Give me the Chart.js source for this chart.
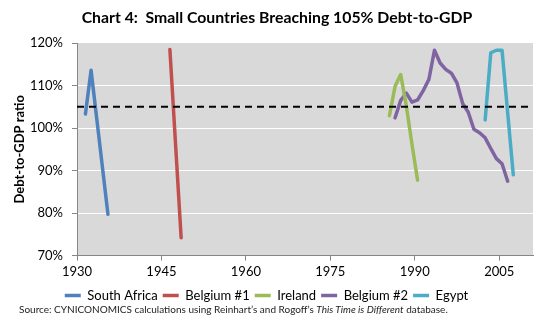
<!DOCTYPE html>
<html>
<head>
<meta charset="utf-8">
<script src="https://cdn.jsdelivr.net/npm/chart.js@4/dist/chart.umd.min.js"></script>
<style>
  html, body { margin: 0; padding: 0; background: #fff; }
  #wrap { position: relative; width: 554px; height: 328px; }
  #c { display: block; }
  #src { position: absolute; left: 19px; top: 303px; font-family: Lato, "Open Sans", sans-serif; font-size: 10px; color: #222; white-space: nowrap; }
</style>
</head>
<body>
<div id="wrap">
  <canvas id="c" width="554" height="328"></canvas>
  <div id="src">Source: CYNICONOMICS calculations using Reinhart’s and Rogoff’s <i>This Time is Different</i> database.</div>
</div>
<script>
const chartTitle = 'Chart 4:  Small Countries Breaching 105% Debt-to-GDP';
const yAxisTitle = 'Debt-to-GDP ratio';
const xTickLabels = ['1930', '1945', '1960', '1975', '1990', '2005'];
const yTickValues = [70, 80, 90, 100, 110, 120];
const thresholdValue = 105;

const seriesNames = ['South Africa', 'Belgium #1', 'Ireland', 'Belgium #2', 'Egypt'];

const southAfricaYears = [1931, 1932, 1935];
const southAfricaValues = [103.3, 113.6, 79.7];

const belgium1Years = [1946, 1948];
const belgium1Values = [118.5, 74.2];

const irelandYears = [1985, 1986, 1987, 1988, 1989, 1990];
const irelandValues = [102.9, 109.8, 112.6, 105.2, 96.2, 87.7];

const belgium2Years = [1986, 1987, 1988, 1989, 1990, 1991, 1992, 1993, 1994, 1995, 1996,
                       1997, 1998, 1999, 2000, 2001, 2002, 2003, 2004, 2005, 2006];
const belgium2Values = [102.4, 106.5, 108.2, 106.1, 106.6, 108.8, 111.4, 118.3, 115.3, 113.8, 112.9,
                        110.6, 105.8, 103.7, 99.7, 98.9, 97.7, 95.2, 92.8, 91.6, 87.5];

const egyptYears = [2002, 2003, 2004, 2005, 2007];
const egyptValues = [101.9, 117.7, 118.3, 118.3, 89.0];

const firstYear = 1930;
const lastYear = 2010;

const colors = ['#4F81BD', '#C0504D', '#9BBB59', '#8064A2', '#4BACC6'];

function pts(xs, ys) { return xs.map((x, i) => ({ x: x, y: ys[i] })); }

const seriesData = [
  pts(southAfricaYears, southAfricaValues),
  pts(belgium1Years, belgium1Values),
  pts(irelandYears, irelandValues),
  pts(belgium2Years, belgium2Values),
  pts(egyptYears, egyptValues)
];

const FONT = 'Lato, "Open Sans", sans-serif';

const bgPlugin = {
  id: 'plotBg',
  beforeDraw(chart) {
    const a = chart.chartArea, ctx = chart.ctx;
    ctx.save();
    ctx.fillStyle = '#D9D9D9';
    ctx.fillRect(a.left, a.top, a.right - a.left, a.bottom - a.top);
    ctx.restore();
  },
  afterDraw(chart) {
    const ctx = chart.ctx;
    ctx.save();
    ctx.fillStyle = '#000';
    ctx.font = 'bold 15.8px ' + FONT;
    ctx.textAlign = 'center';
    ctx.textBaseline = 'middle';
    ctx.fillText(chartTitle, chart.width / 2, 18);
    ctx.restore();
  }
};

const datasets = [{
  label: 'threshold',
  data: [{ x: firstYear - 0.5, y: thresholdValue }, { x: lastYear + 0.5, y: thresholdValue }],
  borderColor: '#000',
  borderWidth: 2,
  borderDash: [7, 5],
  pointRadius: 0,
  fill: false
}].concat(seriesNames.map((n, i) => ({
  label: n,
  data: seriesData[i],
  borderColor: colors[i],
  backgroundColor: colors[i],
  borderWidth: 3.5,
  borderJoinStyle: 'round',
  borderCapStyle: 'round',
  pointRadius: 0,
  tension: 0,
  fill: false
})));

new Chart(document.getElementById('c'), {
  type: 'line',
  data: { datasets },
  plugins: [bgPlugin],
  options: {
    responsive: false,
    animation: false,
    devicePixelRatio: 1,
    layout: { padding: { left: 0, right: 21, top: 43, bottom: 16 } },
    plugins: {
      tooltip: { enabled: false },
      title: { display: false },
      legend: {
        display: true,
        position: 'bottom',
        labels: {
          filter: (item) => item.datasetIndex > 0,
          usePointStyle: true,
          pointStyle: 'line',
          pointStyleWidth: 16,
          boxHeight: 13,
          padding: 5,
          color: '#000',
          font: { family: FONT, size: 13 }
        }
      }
    },
    scales: {
      x: {
        type: 'linear',
        min: firstYear - 0.5,
        max: lastYear + 0.5,
        afterBuildTicks(scale) {
          scale.ticks = xTickLabels.map(l => ({ value: Number(l) - 0.5 }));
        },
        afterFit(scale) { scale.height = 28.4; },
        ticks: {
          autoSkip: false,
          maxRotation: 0,
          padding: 3,
          color: '#000',
          font: { family: FONT, size: 13 },
          callback: (v) => String(v + 0.5)
        },
        grid: {
          drawOnChartArea: false,
          drawTicks: true,
          tickLength: 5,
          tickColor: '#868686'
        },
        border: { display: true, color: '#868686', width: 1 }
      },
      y: {
        type: 'linear',
        min: yTickValues[0],
        max: yTickValues[yTickValues.length - 1],
        afterBuildTicks(scale) {
          scale.ticks = yTickValues.map(v => ({ value: v }));
        },
        afterFit(scale) { scale.width = 77; },
        title: {
          display: true,
          text: yAxisTitle,
          color: '#000',
          font: { family: FONT, size: 13, weight: 'bold', lineHeight: 1.2 },
          padding: { top: 12, bottom: 0 }
        },
        ticks: {
          padding: 9,
          color: '#000',
          font: { family: FONT, size: 13 },
          callback: (v) => v + '%'
        },
        grid: {
          color: (ctx) => (ctx.tick && (ctx.tick.value === 70 || ctx.tick.value === 120)) ? 'rgba(0,0,0,0)' : '#FFFFFF',
          lineWidth: 1,
          drawTicks: true,
          tickLength: 5,
          tickColor: '#868686'
        },
        border: { display: true, color: '#868686', width: 1 }
      }
    }
  }
});
</script>
</body>
</html>
